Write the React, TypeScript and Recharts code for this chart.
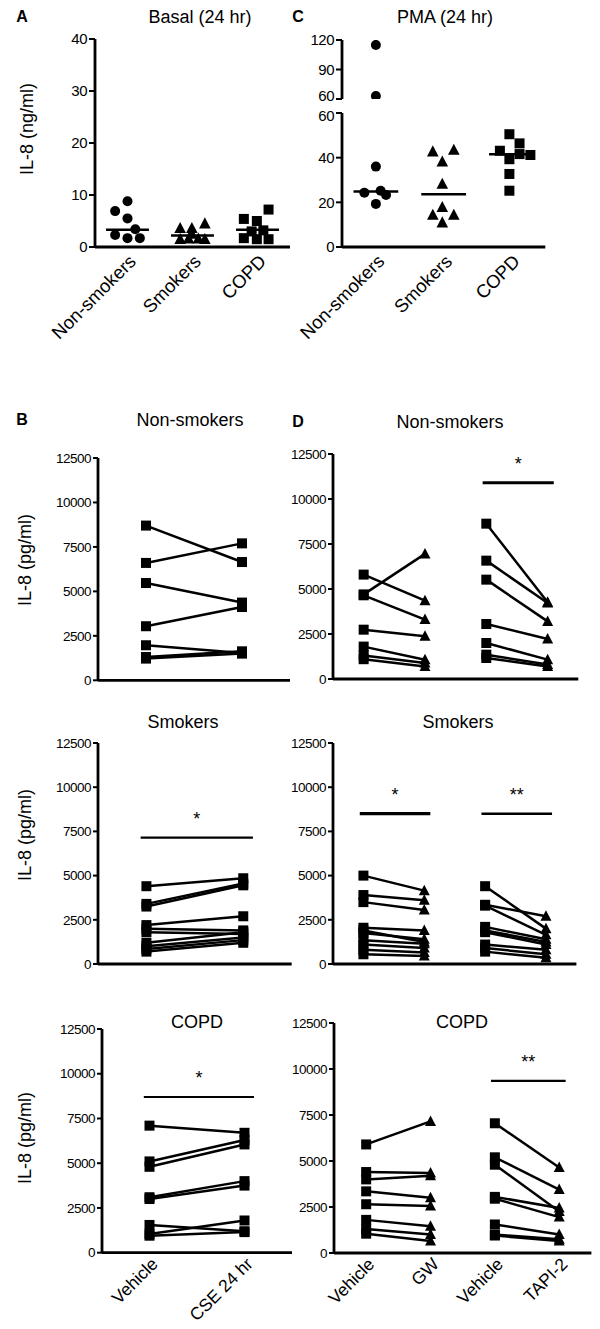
import React from 'react';
import { ScatterChart, Scatter, LineChart, Line, XAxis, YAxis, ReferenceLine } from 'recharts';

const FONT = '"Liberation Sans", Arial, Helvetica, sans-serif';

// ---------- Panel A / C : categories ----------
const groupNames = ['Non-smokers', 'Smokers', 'COPD'];

// Basal (24 hr), ng/ml ; x = category index + jitter position
const basalNonSmokers = [
  { x: 0.31, y: 6.9 }, { x: 0.5, y: 8.8 }, { x: 0.5, y: 5.5 }, { x: 0.62, y: 3.4 },
  { x: 0.31, y: 2.3 }, { x: 0.5, y: 1.7 }, { x: 0.69, y: 1.7 },
];
const basalSmokers = [
  { x: 1.31, y: 3.6 }, { x: 1.49, y: 3.6 }, { x: 1.69, y: 4.5 }, { x: 1.49, y: 2.5 },
  { x: 1.31, y: 1.5 }, { x: 1.44, y: 1.6 }, { x: 1.59, y: 1.6 }, { x: 1.69, y: 1.5 },
];
const basalCOPD = [
  { x: 2.67, y: 7.2 }, { x: 2.29, y: 5.4 }, { x: 2.49, y: 5.0 }, { x: 2.59, y: 3.2 },
  { x: 2.41, y: 3.0 }, { x: 2.29, y: 1.7 }, { x: 2.49, y: 1.5 }, { x: 2.67, y: 1.5 },
];
const basalMedians = [3.3, 2.2, 3.3];

// PMA (24 hr), ng/ml
const pmaNonSmokers = [
  { x: 0.5, y: 115 }, { x: 0.5, y: 63 }, { x: 0.5, y: 36 }, { x: 0.33, y: 24.3 },
  { x: 0.57, y: 25.2 }, { x: 0.65, y: 23.3 }, { x: 0.5, y: 19.3 },
];
const pmaSmokers = [
  { x: 1.34, y: 42.7 }, { x: 1.65, y: 43.4 }, { x: 1.48, y: 38.2 }, { x: 1.48, y: 28.2 },
  { x: 1.34, y: 14.3 }, { x: 1.48, y: 17.8 }, { x: 1.65, y: 14.3 }, { x: 1.48, y: 10.9 },
];
const pmaCOPD = [
  { x: 2.47, y: 50.5 }, { x: 2.62, y: 46.4 }, { x: 2.33, y: 43.1 }, { x: 2.62, y: 41.6 },
  { x: 2.78, y: 41.2 }, { x: 2.47, y: 39.3 }, { x: 2.47, y: 32.7 }, { x: 2.47, y: 25.2 },
];
const pmaMedians = [24.8, 23.6, 41.5];

const basalTicks = [0, 10, 20, 30, 40];
const pmaUpperTicks = [60, 90, 120];
const pmaLowerTicks = [0, 20, 40, 60];

// ---------- Panel B / D : paired values, pg/ml [before, after] ----------
const cseCats = ['Vehicle', 'CSE 24 hr'];
const inhibCats = ['Vehicle', 'GW', 'Vehicle', 'TAPI-2'];
const pgTicks = [0, 2500, 5000, 7500, 10000, 12500];

const cseNonSmokers = [[8700, 6650], [6600, 7700], [5470, 4370], [3040, 4120], [1970, 1540], [1310, 1630], [1220, 1500]];
const cseSmokers = [[4400, 4850], [3400, 4550], [3250, 4450], [2200, 2700], [2000, 1900], [1800, 1700], [1200, 1800], [1000, 1500], [850, 1350], [700, 1200]];
const cseCOPD = [[7100, 6700], [5100, 6300], [4800, 6050], [3100, 4000], [3000, 3750], [1550, 1200], [1050, 1800], [950, 1150]];

const gwNonSmokers = [[5800, 4350], [4700, 6950], [4650, 3300], [2740, 2370], [1800, 1070], [1300, 890], [1100, 700]];
const gwSmokers = [[5000, 4150], [3900, 3600], [3500, 3050], [2050, 1900], [1900, 1250], [1750, 1400], [1350, 1150], [1100, 900], [800, 650], [550, 450]];
const gwCOPD = [[5900, 7150], [4400, 4350], [4000, 4200], [3350, 3000], [2650, 2550], [1800, 1450], [1300, 1000], [1050, 650]];

const tapiNonSmokers = [[8630, 4260], [6575, 4220], [5520, 3200], [3056, 2220], [2000, 1074], [1352, 800], [1167, 700]];
const tapiSmokers = [[4400, 2000], [3350, 2700], [3300, 1650], [2100, 1400], [1900, 1250], [1800, 1100], [1100, 800], [900, 550], [700, 350]];
const tapiCOPD = [[7050, 4650], [5200, 3450], [4800, 2250], [3050, 2450], [2950, 1950], [1550, 1000], [1000, 750], [950, 650]];

// significance bars: [fromCategory, toCategory, value, label]
const sigCseSmokers = [[0, 1, 7150, '*']];
const sigCseCOPD = [[0, 1, 8700, '*']];
const sigInhibNonSmokers = [[2, 3, 10900, '*']];
const sigInhibSmokers = [[0, 1, 8500, '*'], [2, 3, 8500, '**']];
const sigInhibCOPD = [[2, 3, 9350, '**']];

// ---------- helpers ----------
type Frame = { L: number; R: number; T: number; B: number };

function Marker({ cx, cy, kind, s = 5.2 }: any) {
  if (cx == null || cy == null || isNaN(cx) || isNaN(cy)) return null;
  if (kind === 'circle') return <circle cx={cx} cy={cy} r={s} fill="#000" />;
  if (kind === 'square') return <rect x={cx - s} y={cy - s} width={2 * s} height={2 * s} fill="#000" />;
  return <polygon points={`${cx},${cy - s - 1} ${cx + s + 0.5},${cy + s - 0.5} ${cx - s - 0.5},${cy + s - 0.5}`} fill="#000" />;
}

function RotTick(props: any) {
  const { x, y, payload, labels, fs, dy0 = 3 } = props;
  const label = labels[Math.floor(payload.value)];
  return (
    <g transform={`translate(${x + 5},${y + dy0})`}>
      <text x={0} y={0} dy="0.35em" textAnchor="end" transform="rotate(-45)" fill="#000" fontSize={fs} fontFamily={FONT}>
        {label}
      </text>
    </g>
  );
}

function YTick(props: any) {
  const { x, y, payload, fs, shift } = props;
  const off = shift && shift[payload.value] ? shift[payload.value] : 0;
  return (
    <text x={x} y={y + off} dy="0.35em" textAnchor="end" fill="#000" fontSize={fs} fontFamily={FONT} letterSpacing={-0.5}>
      {payload.value}
    </text>
  );
}

const axisStyle = { stroke: '#000', strokeWidth: 2.8 };
const tickLineStyle = { stroke: '#000', strokeWidth: 2 };

function ScatterPanel({ frame, domain, ticks, sets, medians, showX, shift }: any) {
  const padL = 70, padR = 15, padT = 15, padB = 110;
  const width = frame.R - frame.L + padL + padR;
  const height = frame.B - frame.T + padT + padB;
  const kinds = ['circle', 'triangle', 'square'];
  return (
    <div style={{ position: 'absolute', left: frame.L - padL, top: frame.T - padT }}>
      <ScatterChart width={width} height={height} margin={{ top: padT, right: padR, left: 0, bottom: 0 }}>
        <XAxis
          type="number" dataKey="x" domain={[0, 3]} ticks={[0.5, 1.5, 2.5]} interval={0} height={padB}
          axisLine={showX ? axisStyle : false} tickLine={false}
          tick={showX ? (p: any) => <RotTick {...p} labels={groupNames} fs={18.5} /> : false}
          allowDataOverflow
        />
        <YAxis
          type="number" dataKey="y" domain={domain} ticks={ticks} interval={0} width={padL} allowDataOverflow
          axisLine={axisStyle} tickLine={tickLineStyle} tickSize={6} tickMargin={2}
          tick={(p: any) => <YTick {...p} fs={15} shift={shift} />}
        />
        {sets.map((d: any[], i: number) => (
          <Scatter key={i} data={d} dataKey="y" isAnimationActive={false}
            shape={(p: any) => <Marker cx={p.cx} cy={p.cy} kind={kinds[i]} s={kinds[i] === 'triangle' ? 5.3 : 5} />} />
        ))}
        {medians && medians.map((m: number, i: number) => (
          <ReferenceLine key={'m' + i} segment={[{ x: i + 0.17, y: m }, { x: i + 0.83, y: m }]} stroke="#000" strokeWidth={2.5} />
        ))}
      </ScatterChart>
    </div>
  );
}

function buildRows(groups: number[][][]) {
  const n = groups.length * 2;
  const rows: any[] = [];
  for (let r = 0; r < n; r++) rows.push({ x: r + 0.5 });
  const keys: string[] = [];
  groups.forEach((pairs, g) => {
    pairs.forEach((pr, i) => {
      const k = `g${g}_${i}`;
      keys.push(k);
      for (let r = 0; r < n; r++) rows[r][k] = null;
      rows[2 * g][k] = pr[0];
      rows[2 * g + 1][k] = pr[1];
    });
  });
  return { rows, keys };
}

function PairPanel({ frame, cats, groups, markerKinds, bars, showX, barWidths }: any) {
  const padL = 60, padR = 8, padT = 15;
  const padB = showX ? Math.min(80, 1328 - frame.B) : 30;
  const width = frame.R - frame.L + padL + padR;
  const height = frame.B - frame.T + padT + padB;
  const { rows, keys } = buildRows(groups);
  return (
    <div style={{ position: 'absolute', left: frame.L - padL, top: frame.T - padT }}>
      <LineChart width={width} height={height} data={rows} margin={{ top: padT, right: padR, left: 0, bottom: 0 }}>
        <XAxis
          type="number" dataKey="x" domain={[0, cats.length]} ticks={cats.map((_: any, i: number) => i + 0.5)} interval={0}
          height={padB} axisLine={axisStyle} tickLine={false}
          tick={showX ? (p: any) => <RotTick {...p} labels={cats} fs={17.5} dy0={0} /> : false}
        />
        <YAxis
          type="number" domain={[0, 12500]} ticks={pgTicks} interval={0} width={padL}
          axisLine={axisStyle} tickLine={tickLineStyle} tickSize={5} tickMargin={2}
          tick={(p: any) => <YTick {...p} fs={13.5} />}
        />
        {keys.map((k) => (
          <Line key={k} dataKey={k} type="linear" stroke="#000" strokeWidth={2.5} isAnimationActive={false}
            connectNulls={false} activeDot={false}
            dot={(p: any) => <Marker key={`${k}-${p.index}`} cx={p.cx} cy={p.cy} kind={markerKinds[p.index]} s={5} />} />
        ))}
        {bars.map((b: any[], i: number) => (
          <ReferenceLine key={'b' + i}
            segment={[{ x: b[0] + 0.5 - 0.06, y: b[2] }, { x: b[1] + 0.5 + 0.1, y: b[2] }]}
            stroke="#000" strokeWidth={barWidths ? barWidths[i] : 2.2}
            label={{ value: b[3], position: 'top', offset: 13, fill: '#000', fontSize: 18, fontFamily: FONT }} />
        ))}
      </LineChart>
    </div>
  );
}

function T({ x, y, children, size = 18, bold = false, rotate = 0 }: any) {
  return (
    <div style={{
      position: 'absolute', left: x, top: y, transform: `translate(-50%,-50%) rotate(${rotate}deg)`,
      fontSize: size, fontWeight: bold ? 'bold' : 'normal', fontFamily: FONT, color: '#000', whiteSpace: 'nowrap', lineHeight: 1,
    }}>{children}</div>
  );
}

const fA: Frame = { L: 95, R: 290, T: 39, B: 247 };
const fCu: Frame = { L: 341.7, R: 545, T: 40, B: 99 };
const fCl: Frame = { L: 341.7, R: 545, T: 113, B: 247 };
const fB1: Frame = { L: 98, R: 290, T: 457.7, B: 680 };
const fB2: Frame = { L: 98.3, R: 292, T: 743, B: 964 };
const fB3: Frame = { L: 101.7, R: 291.7, T: 1029, B: 1252.7 };
const fD1: Frame = { L: 332.7, R: 578, T: 454.3, B: 679.3 };
const fD2: Frame = { L: 333.3, R: 576.7, T: 743, B: 964 };
const fD3: Frame = { L: 334.3, R: 591.7, T: 1023, B: 1253 };

const upper = (d: any[]) => d.filter((p) => p.y > 60);
const lower = (d: any[]) => d.filter((p) => p.y <= 60);

export default function App() {
  const sq2 = ['square', 'square'];
  const sqTri = ['square', 'triangle', 'square', 'triangle'];
  return (
    <div style={{ position: 'absolute', left: 0, top: 0, width: 600, height: 1329, background: '#fff', overflow: 'hidden', fontFamily: FONT }}>
      <ScatterPanel frame={fA} domain={[0, 40]} ticks={basalTicks} sets={[basalNonSmokers, basalSmokers, basalCOPD]} medians={basalMedians} showX />
      <ScatterPanel frame={fCu} domain={[60, 120]} ticks={pmaUpperTicks} sets={[upper(pmaNonSmokers), upper(pmaSmokers), upper(pmaCOPD)]} showX={false} shift={{ 60: -3 }} />
      <ScatterPanel frame={fCl} domain={[0, 60]} ticks={pmaLowerTicks} sets={[lower(pmaNonSmokers), lower(pmaSmokers), lower(pmaCOPD)]} medians={pmaMedians} showX shift={{ 60: 3 }} />

      <PairPanel frame={fB1} cats={cseCats} groups={[cseNonSmokers]} markerKinds={sq2} bars={[]} showX={false} />
      <PairPanel frame={fB2} cats={cseCats} groups={[cseSmokers]} markerKinds={sq2} bars={sigCseSmokers} showX={false} />
      <PairPanel frame={fB3} cats={cseCats} groups={[cseCOPD]} markerKinds={sq2} bars={sigCseCOPD} showX />

      <PairPanel frame={fD1} cats={inhibCats} groups={[gwNonSmokers, tapiNonSmokers]} markerKinds={sqTri} bars={sigInhibNonSmokers} barWidths={[3]} showX={false} />
      <PairPanel frame={fD2} cats={inhibCats} groups={[gwSmokers, tapiSmokers]} markerKinds={sqTri} bars={sigInhibSmokers} barWidths={[3.2, 2.4]} showX={false} />
      <PairPanel frame={fD3} cats={inhibCats} groups={[gwCOPD, tapiCOPD]} markerKinds={sqTri} bars={sigInhibCOPD} showX />

      <T x={22} y={17} size={16} bold>A</T>
      <T x={200} y={17} size={18}>Basal (24 hr)</T>
      <T x={298} y={17} size={16} bold>C</T>
      <T x={445} y={17} size={18}>PMA (24 hr)</T>
      <T x={27} y={129} size={18} rotate={-90}>IL-8 (ng/ml)</T>

      <T x={22} y={420} size={16} bold>B</T>
      <T x={190} y={420} size={18}>Non-smokers</T>
      <T x={298} y={422} size={16} bold>D</T>
      <T x={450} y={422} size={18}>Non-smokers</T>
      <T x={25} y={560} size={18} rotate={-90}>IL-8 (pg/ml)</T>

      <T x={183} y={722} size={18}>Smokers</T>
      <T x={458} y={722} size={18}>Smokers</T>
      <T x={25} y={835} size={18} rotate={-90}>IL-8 (pg/ml)</T>

      <T x={197} y={1022} size={18}>COPD</T>
      <T x={462} y={1022} size={18}>COPD</T>
      <T x={25} y={1138} size={18} rotate={-90}>IL-8 (pg/ml)</T>
    </div>
  );
}
